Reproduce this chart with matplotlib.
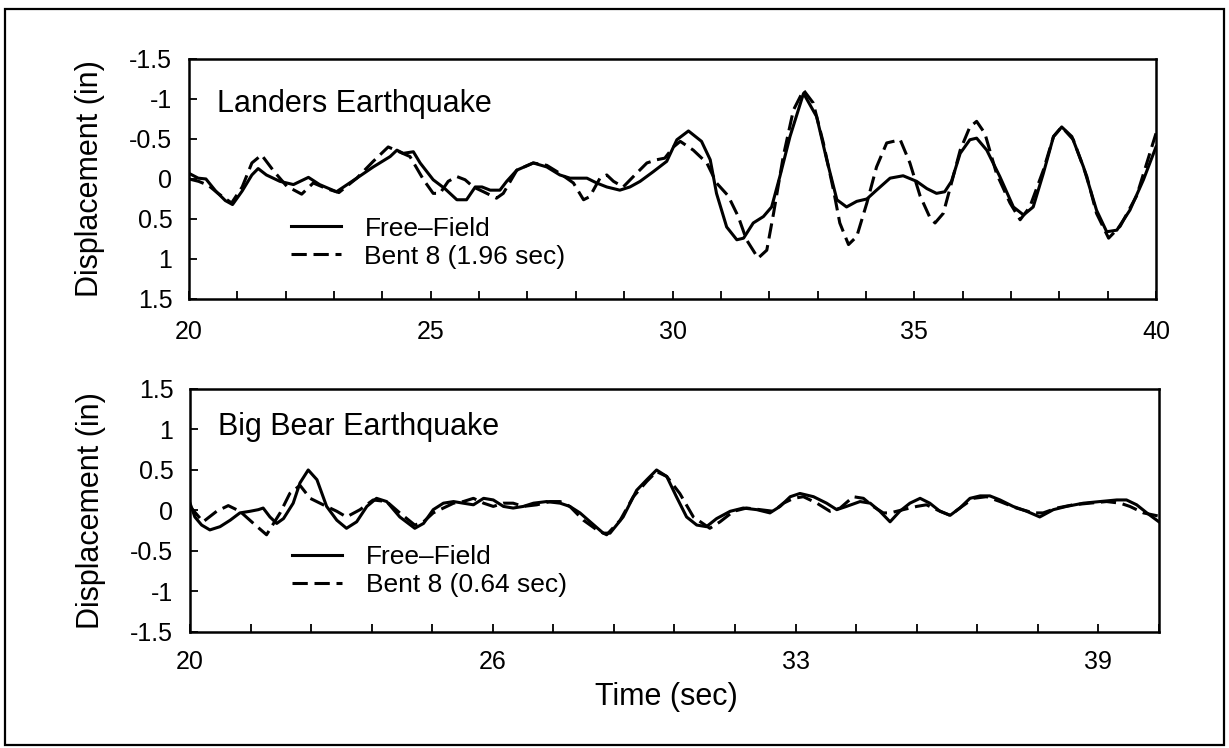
import numpy as np
import matplotlib
matplotlib.use("Agg")
import matplotlib.pyplot as plt
from matplotlib.patches import Rectangle

plt.rcParams["font.family"] = ["Liberation Sans", "DejaVu Sans"]

# Landers earthquake (top panel), time in sec, displacement in inches
landers_ff_t = [20.0, 20.19, 20.35, 20.55, 20.75, 20.90, 21.1, 21.3, 21.43, 21.6, 21.88, 22.16,
                22.47, 22.7, 23.05, 23.47, 23.81, 24.16, 24.30, 24.43, 24.64, 24.78, 25.05, 25.29,
                25.54, 25.74, 25.92, 26.06, 26.23, 26.43, 26.57, 26.78, 27.12, 27.40, 27.67, 27.88,
                28.23, 28.43, 28.64, 28.91, 29.12, 29.33, 29.60, 29.88, 30.09, 30.33, 30.60, 30.78,
                30.91, 31.12, 31.33, 31.47, 31.67, 31.88, 32.05, 32.22, 32.43, 32.71, 32.98, 33.19,
                33.40, 33.60, 33.81, 34.02, 34.22, 34.50, 34.77, 35.05, 35.26, 35.46, 35.63, 35.77,
                35.95, 36.15, 36.29, 36.50, 36.77, 37.05, 37.26, 37.46, 37.67, 37.88, 38.05, 38.26,
                38.50, 38.77, 38.98, 39.19, 39.46, 39.74, 40.0]
landers_ff_d = [-0.07, -0.01, 0.0, 0.15, 0.27, 0.32, 0.15, -0.05, -0.13, -0.05, 0.03, 0.07,
                -0.02, 0.07, 0.16, -0.01, -0.15, -0.28, -0.36, -0.32, -0.34, -0.20, 0.01, 0.12,
                0.26, 0.26, 0.10, 0.10, 0.14, 0.14, 0.03, -0.11, -0.20, -0.15, -0.05, -0.01,
                -0.01, 0.05, 0.10, 0.14, 0.10, 0.03, -0.09, -0.22, -0.49, -0.60, -0.47, -0.24,
                0.18, 0.60, 0.76, 0.74, 0.55, 0.47, 0.35, -0.03, -0.53, -1.07, -0.78, -0.24,
                0.26, 0.35, 0.28, 0.25, 0.14, -0.01, -0.04, 0.03, 0.12, 0.18, 0.16, 0.03,
                -0.32, -0.49, -0.51, -0.36, -0.03, 0.35, 0.45, 0.35, -0.07, -0.53, -0.65, -0.53,
                -0.15, 0.39, 0.66, 0.64, 0.39, 0.01, -0.40]

landers_bent_t = [20.0, 20.2, 20.4, 20.6, 20.88, 21.1, 21.3, 21.5, 21.75, 22.02, 22.33, 22.57,
                  22.84, 23.1, 23.47, 23.81, 24.12, 24.57, 24.85, 25.05, 25.19, 25.36, 25.54, 25.71,
                  25.88, 26.09, 26.36, 26.50, 26.78, 27.12, 27.40, 27.67, 27.95, 28.16, 28.29, 28.50,
                  28.64, 28.78, 28.98, 29.19, 29.47, 29.67, 29.84, 30.02, 30.16, 30.43, 30.71, 30.91,
                  31.15, 31.36, 31.53, 31.77, 31.95, 32.09, 32.29, 32.50, 32.71, 32.91, 33.12, 33.33,
                  33.46, 33.64, 33.81, 34.02, 34.22, 34.43, 34.71, 34.91, 35.12, 35.33, 35.43, 35.60,
                  35.77, 35.95, 36.15, 36.29, 36.46, 36.70, 36.98, 37.19, 37.39, 37.67, 37.88, 38.05,
                  38.29, 38.57, 38.77, 39.02, 39.26, 39.60, 40.0]
landers_bent_d = [0.0, 0.03, 0.08, 0.18, 0.30, 0.10, -0.20, -0.30, -0.10, 0.09, 0.19, 0.05,
                  0.12, 0.17, -0.01, -0.22, -0.40, -0.28, 0.01, 0.18, 0.18, 0.03, -0.03, 0.01,
                  0.10, 0.16, 0.24, 0.18, -0.11, -0.20, -0.17, -0.07, 0.05, 0.26, 0.22, -0.01,
                  -0.05, 0.03, 0.10, -0.03, -0.20, -0.24, -0.26, -0.40, -0.47, -0.36, -0.20, 0.05,
                  0.21, 0.47, 0.76, 0.99, 0.89, 0.43, -0.28, -0.86, -1.11, -0.95, -0.45, 0.14,
                  0.55, 0.82, 0.72, 0.30, -0.15, -0.45, -0.49, -0.20, 0.21, 0.49, 0.55, 0.43,
                  0.05, -0.36, -0.65, -0.72, -0.57, -0.07, 0.30, 0.51, 0.35, -0.11, -0.53, -0.65,
                  -0.49, -0.03, 0.43, 0.74, 0.59, 0.21, -0.57]

# Big Bear earthquake (bottom panel)
bigbear_ff_t = [20.0, 20.10, 20.24, 20.41, 20.62, 20.83, 21.03, 21.24, 21.41, 21.51, 21.65, 21.79,
                21.93, 22.13, 22.27, 22.44, 22.62, 22.82, 23.03, 23.23, 23.44, 23.65, 23.85, 24.06,
                24.33, 24.64, 24.82, 25.02, 25.23, 25.44, 25.64, 25.85, 26.06, 26.26, 26.47, 26.67,
                26.88, 27.09, 27.36, 27.64, 27.84, 28.05, 28.26, 28.53, 28.67, 28.94, 29.22, 29.43,
                29.63, 29.84, 30.04, 30.25, 30.46, 30.66, 30.87, 31.15, 31.42, 31.70, 31.97, 32.18,
                32.39, 32.59, 32.87, 33.14, 33.35, 33.55, 33.83, 34.04, 34.24, 34.45, 34.65, 34.86,
                35.07, 35.27, 35.48, 35.69, 35.89, 36.10, 36.31, 36.51, 36.72, 36.99, 37.27, 37.54,
                37.82, 38.09, 38.44, 38.78, 39.13, 39.33, 39.54, 39.75, 40.0]
bigbear_ff_d = [0.09, -0.08, -0.18, -0.24, -0.20, -0.12, -0.03, -0.01, 0.01, 0.03, -0.08, -0.16,
                -0.10, 0.09, 0.34, 0.50, 0.38, 0.05, -0.12, -0.22, -0.14, 0.05, 0.15, 0.11,
                -0.08, -0.22, -0.16, 0.01, 0.09, 0.11, 0.09, 0.07, 0.15, 0.13, 0.05, 0.03,
                0.05, 0.09, 0.11, 0.09, 0.05, -0.03, -0.14, -0.28, -0.28, -0.08, 0.25, 0.38,
                0.50, 0.42, 0.17, -0.08, -0.18, -0.20, -0.10, -0.01, 0.03, 0.01, -0.03, 0.05,
                0.17, 0.21, 0.17, 0.09, 0.01, 0.05, 0.11, 0.09, -0.01, -0.14, -0.01, 0.09,
                0.15, 0.09, -0.01, -0.06, 0.03, 0.15, 0.18, 0.18, 0.13, 0.05, -0.01, -0.08,
                0.01, 0.05, 0.09, 0.11, 0.13, 0.13, 0.07, -0.03, -0.14]

bigbear_bent_t = [20.0, 20.27, 20.55, 20.79, 21.03, 21.31, 21.58, 21.86, 22.06, 22.27, 22.48, 22.75,
                  23.03, 23.23, 23.51, 23.78, 24.06, 24.33, 24.64, 24.82, 25.02, 25.23, 25.44, 25.64,
                  25.85, 26.06, 26.26, 26.47, 26.67, 26.88, 27.16, 27.43, 27.64, 27.84, 28.12, 28.40,
                  28.60, 28.88, 29.15, 29.43, 29.63, 29.84, 30.11, 30.39, 30.73, 30.94, 31.22, 31.49,
                  31.77, 32.04, 32.25, 32.46, 32.66, 32.94, 33.21, 33.42, 33.69, 33.90, 34.10, 34.31,
                  34.45, 34.72, 35.0, 35.2, 35.41, 35.69, 35.89, 36.17, 36.44, 36.72, 37.06, 37.41,
                  37.61, 37.89, 38.23, 38.57, 38.92, 39.20, 39.40, 39.68, 40.0]
bigbear_bent_d = [0.05, -0.14, -0.01, 0.06, -0.01, -0.16, -0.30, -0.03, 0.21, 0.31, 0.15, 0.07,
                  -0.01, -0.08, 0.01, 0.13, 0.11, -0.03, -0.18, -0.14, -0.03, 0.03, 0.09, 0.11,
                  0.15, 0.09, 0.05, 0.09, 0.09, 0.05, 0.07, 0.11, 0.11, 0.05, -0.12, -0.24,
                  -0.30, -0.12, 0.17, 0.36, 0.48, 0.42, 0.21, -0.08, -0.22, -0.14, -0.01, 0.03,
                  0.01, -0.01, 0.09, 0.15, 0.17, 0.09, -0.01, 0.03, 0.17, 0.15, 0.05, -0.03,
                  -0.03, 0.01, 0.05, 0.07, 0.01, -0.06, 0.03, 0.15, 0.17, 0.11, 0.03, -0.03,
                  -0.03, 0.03, 0.07, 0.09, 0.11, 0.09, 0.05, -0.03, -0.07]

y_ticks = [-1.5, -1, -0.5, 0, 0.5, 1, 1.5]
y_ticklabels = ["-1.5", "-1", "-0.5", "0", "0.5", "1", "1.5"]

top_xticks = np.arange(20, 41, 1)
top_xticklabels = ["20", "", "", "", "", "25", "", "", "", "", "30",
                   "", "", "", "", "35", "", "", "", "", "40"]
bot_xticks = np.arange(20, 40.01, 1.25)
bot_xticklabels = ["20", "", "", "", "", "26", "", "", "", "", "33",
                   "", "", "", "", "39", ""]

DASH = (0, (5, 2.2))
LW = 2.2

fig = plt.figure(figsize=(12.29, 7.48), dpi=100)
ax1 = fig.add_axes([0.1538, 0.6003, 0.7868, 0.3209])
ax2 = fig.add_axes([0.1546, 0.1551, 0.7884, 0.3249])

panels = [
    (ax1, landers_ff_t, landers_ff_d, landers_bent_t, landers_bent_d,
     "Landers Earthquake", "Bent 8 (1.96 sec)", top_xticks, top_xticklabels, 15),
    (ax2, bigbear_ff_t, bigbear_ff_d, bigbear_bent_t, bigbear_bent_d,
     "Big Bear Earthquake", "Bent 8 (0.64 sec)", bot_xticks, bot_xticklabels, 13),
]

for ax, ff_t, ff_d, b_t, b_d, title, bent_lab, xt, xtl, xpad in panels:
    ax.plot(ff_t, ff_d, color="black", lw=LW, solid_joinstyle="round", label="Free\u2013Field")
    ax.plot(b_t, b_d, color="black", lw=LW, linestyle=DASH, label=bent_lab)
    ax.set_xlim(20, 40)
    ax.set_xticks(xt)
    ax.set_xticklabels(xtl)
    ax.set_yticks(y_ticks)
    ax.set_yticklabels(y_ticklabels)
    ax.tick_params(direction="in", length=6, width=1.3, top=False, right=False, labelsize=18)
    ax.tick_params(axis="x", pad=xpad)
    ax.tick_params(axis="y", pad=12)
    for sp in ax.spines.values():
        sp.set_linewidth(1.8)
    ax.set_ylabel("Displacement (in)", fontsize=22)
    ax.yaxis.set_label_coords(-0.087, 0.5)

ax1.set_ylim(1.5, -1.5)
ax2.set_ylim(-1.5, 1.5)

ax1.text(0.029, 0.779, "Landers Earthquake", transform=ax1.transAxes, fontsize=22, va="baseline")
ax2.text(0.029, 0.811, "Big Bear Earthquake", transform=ax2.transAxes, fontsize=22, va="baseline")

for ax, ymid in [(ax1, 0.235), (ax2, 0.251)]:
    ax.legend(loc="center left", bbox_to_anchor=(0.105, ymid), frameon=False, fontsize=19,
              handlelength=1.9, handletextpad=0.9, labelspacing=0.15, borderpad=0, borderaxespad=0)

ax2.set_xlabel("Time (sec)", fontsize=22, va="top")
ax2.xaxis.set_label_coords(0.492, -0.205)

fig.patches.append(Rectangle((5 / 1229, 3 / 748), 1219 / 1229, 736 / 748, transform=fig.transFigure,
                             fill=False, edgecolor="black", lw=1.6))

fig.savefig("out.png", dpi=100)
